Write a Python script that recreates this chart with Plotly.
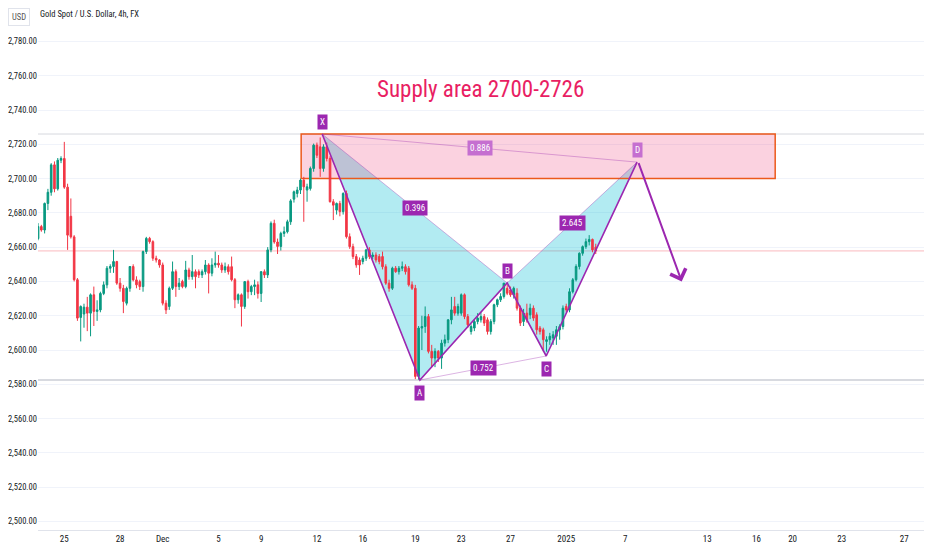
import plotly.graph_objects as go

# 4h candles (one per bar, left to right)
opens = [
    2670, 2665, 2672, 2670, 2685.5, 2692, 2708, 2694, 2710.7, 2711.7, 2695, 2678,
    2666, 2641, 2619, 2621, 2625, 2621.5, 2632.2, 2622.5, 2623.4, 2633, 2638, 2647.7,
    2648.7, 2651.6, 2639, 2636, 2627.3, 2636, 2648.7, 2640.9, 2639.9, 2637, 2657.4, 2665.1,
    2663.2, 2653.5, 2652.5, 2649.6, 2627.3, 2625.4, 2636, 2645.7, 2637, 2640, 2637, 2646.7,
    2642.8, 2645.7, 2645.7, 2643.8, 2645.7, 2649.6, 2644.8, 2649.6, 2650.6, 2649.6, 2646.7, 2648.6,
    2648.6, 2641, 2629.3, 2632.2, 2625.4, 2639.9, 2634, 2637, 2638, 2633, 2645.7, 2643.8,
    2658.4, 2673.9, 2663, 2660.4, 2668, 2669, 2674.8, 2688, 2691.3, 2693.3, 2699.1, 2693.3,
    2694.2, 2705.9, 2719.5, 2718.5, 2705.9, 2718.5, 2711.7, 2686.5, 2681.6, 2685.5, 2680.7, 2691.3,
    2666.1, 2660.3, 2654.5, 2652.5, 2651.6, 2653.5, 2658.4, 2654.5, 2655.4, 2654.5, 2654.5, 2648.6,
    2639, 2636, 2647.7, 2645.7, 2647.7, 2648.6, 2647.7, 2638, 2636, 2584.6, 2612.8, 2613.7,
    2619.5, 2599.2, 2595.3, 2599.2, 2595.3, 2604, 2606, 2617.6, 2625.4, 2621.5, 2621.5, 2632.2,
    2619.5, 2610.8, 2612.8, 2616.6, 2617.6, 2619.5, 2617.6, 2610.8, 2616.6, 2626.4, 2629.3, 2631.2,
    2636, 2635, 2632.2, 2633.1, 2624.4, 2616.6, 2621.5, 2620.5, 2624.4, 2620.5, 2612.8, 2611.8,
    2605, 2606, 2607, 2608, 2611.8, 2613.7, 2625.4, 2623.4, 2634, 2641, 2648.7, 2656.4,
    2660.3, 2663.2, 2664.5, 2660,
]
highs = [
    2673, 2674, 2673, 2686, 2694, 2709, 2710, 2712, 2713, 2721.4, 2697, 2688.4,
    2667, 2642, 2626, 2627, 2631, 2633, 2637, 2629, 2634, 2640, 2649, 2650,
    2658.4, 2652, 2642, 2638, 2637, 2649, 2650, 2643, 2641, 2658, 2666, 2666,
    2664, 2655, 2653, 2651, 2629, 2637, 2651.6, 2647, 2642, 2641, 2652, 2648,
    2655.4, 2647, 2647, 2647, 2652.5, 2650.6, 2653.5, 2657.4, 2655.4, 2651, 2651, 2650,
    2654.5, 2642, 2633, 2633, 2640, 2641, 2638, 2641, 2640, 2646, 2647, 2660,
    2675, 2676, 2665, 2669, 2672, 2676, 2688, 2693, 2695.2, 2700, 2701, 2697,
    2707, 2720.4, 2721, 2724, 2720, 2721, 2713, 2688, 2686, 2687, 2692, 2693,
    2668, 2662, 2656, 2654, 2655, 2659, 2660, 2657, 2657, 2656, 2657.4, 2650,
    2641, 2648.6, 2649, 2649, 2651.6, 2650, 2649, 2640, 2638, 2614, 2620, 2625.4,
    2621, 2603, 2601, 2600, 2606, 2609, 2618, 2631, 2631, 2627, 2633, 2633,
    2621, 2615, 2618, 2621.5, 2622, 2621, 2619, 2618, 2627, 2630, 2633.1, 2639,
    2638, 2637, 2637, 2636, 2626, 2624, 2627, 2627, 2626, 2622, 2614, 2613,
    2608, 2610, 2611, 2614, 2615, 2626, 2627, 2636, 2642, 2650, 2657, 2661,
    2665, 2667, 2665, 2662,
]
lows = [
    2661, 2664, 2669, 2668, 2681.6, 2690, 2692, 2693, 2709, 2694, 2658.4, 2665,
    2640, 2617, 2605, 2613, 2611, 2608, 2614, 2617, 2622, 2632, 2636, 2645,
    2645, 2638, 2634, 2621.5, 2626, 2634, 2640, 2636, 2635, 2634, 2656, 2662,
    2652, 2651, 2648, 2626, 2621, 2623.4, 2635, 2631, 2635, 2636, 2636, 2641,
    2641, 2636, 2642, 2642, 2644, 2633, 2643, 2648, 2648, 2645, 2645, 2644,
    2640, 2624.4, 2627, 2613.7, 2624, 2630, 2632, 2632, 2630, 2628, 2642, 2642,
    2657, 2662, 2656, 2658, 2666, 2668, 2673, 2686, 2689, 2691, 2674.8, 2686.5,
    2693, 2704, 2712, 2701, 2704, 2710, 2686, 2675.8, 2679, 2678, 2679, 2665,
    2659, 2653, 2648, 2643.8, 2650, 2652, 2653, 2653, 2651, 2650, 2647, 2638,
    2634, 2635, 2645, 2644, 2646, 2644, 2637, 2635, 2583, 2582.7, 2600, 2610,
    2598, 2590, 2590, 2593, 2589, 2602, 2604, 2615, 2620, 2620, 2620, 2618,
    2613, 2609, 2611, 2615, 2616, 2614, 2609, 2609, 2615, 2625, 2628, 2630,
    2632, 2631, 2630, 2623, 2614, 2614, 2616, 2618, 2617, 2609, 2609, 2599.2,
    2599, 2603, 2603, 2603, 2606, 2612, 2622, 2622, 2633, 2640, 2647, 2655,
    2659, 2661, 2657, 2656,
]
closes = [
    2665, 2672, 2670, 2685.5, 2692, 2708, 2694, 2710.7, 2711.7, 2695, 2667, 2666,
    2641, 2618.6, 2625.4, 2625, 2621.5, 2632.2, 2622.5, 2623.4, 2633, 2638, 2647.7, 2648.7,
    2651.6, 2639, 2636, 2628.3, 2636, 2648.7, 2640.9, 2638, 2637, 2657.4, 2665.1, 2663.2,
    2653.5, 2652.5, 2649.6, 2627.3, 2623.4, 2636, 2645.7, 2637, 2639, 2637, 2646.7, 2642.8,
    2645.7, 2642.8, 2643.8, 2645.7, 2649.6, 2644.8, 2649.6, 2650.6, 2649.6, 2646.7, 2648.6, 2645.7,
    2641, 2629.3, 2632.2, 2625.4, 2639.9, 2634, 2637, 2638, 2633, 2645.7, 2643.8, 2658.4,
    2673.9, 2663, 2660.4, 2668, 2669, 2674.8, 2687, 2692.3, 2693.3, 2699.1, 2695.2, 2695.2,
    2705.9, 2719.5, 2713.6, 2705.9, 2718.5, 2711.7, 2686.5, 2684.5, 2685.5, 2680.7, 2691.3, 2666.1,
    2660.3, 2654.5, 2649.6, 2649.6, 2653.5, 2658.4, 2654.5, 2655.4, 2652.5, 2651.6, 2648.6, 2639,
    2636, 2647.7, 2645.7, 2647.7, 2648.6, 2645.7, 2638, 2636, 2584.6, 2612.8, 2613.7, 2619.5,
    2599.2, 2595.3, 2599.2, 2595.3, 2604, 2606, 2617.6, 2623.4, 2621.5, 2625.4, 2632.2, 2619.5,
    2614.7, 2613.7, 2616.6, 2618.6, 2619.5, 2615.7, 2610.8, 2616.6, 2626.4, 2629.3, 2631.2, 2639,
    2633.1, 2632.2, 2636, 2624.4, 2615.7, 2621.5, 2617.6, 2624.4, 2618.6, 2611.8, 2610.8, 2606,
    2606, 2608, 2608.9, 2611.8, 2613.7, 2624.4, 2623.4, 2634, 2641, 2648.7, 2656.4, 2660.3,
    2663.2, 2664.5, 2658.4, 2657.8,
]
bars = list(range(len(closes)))

# time axis (bar index of each date label)
tick_bars = [9, 26, 39, 56, 69, 86, 100, 116, 130, 145, 162, 180, 205, 220, 231, 246, 265]
tick_text = ["25", "28", "Dec", "5", "9", "12", "16", "19", "23", "27", "2025", "7", "13", "16", "20", "23", "27"]
price_ticks = [2500, 2520, 2540, 2560, 2580, 2600, 2620, 2640, 2660, 2680, 2700, 2720, 2740, 2760, 2780]

# harmonic pattern X-A-B-C-D
pattern_names = ["X", "A", "B", "C", "D"]
pattern_x = [87.6, 117.4, 144.0, 155.9, 183.6]
pattern_y = [2726.0, 2582.5, 2639.1, 2596.5, 2709.6]
ratio_pairs = [(0, 2), (1, 3), (2, 4), (0, 4)]
ratio_text = ["0.396", "0.752", "2.645", "0.886"]

# supply zone and projected move
zone_x = [81.2, 225.7]
zone_y = [2700, 2726]
arrow_x = [183.9, 197.2]
arrow_y = [2709.9, 2640.0]
note_x, note_y = 136, 2751.7

PURPLE = "#9c27b0"
FONT = "Liberation Sans Narrow, Roboto Condensed, Roboto, sans-serif"

fig = go.Figure()

# triangle fills and zone box sit between grid and candles
shapes = []
for a, b, c in [(0, 1, 2), (2, 3, 4)]:
    path = "M {},{} L {},{} L {},{} Z".format(
        pattern_x[a], pattern_y[a], pattern_x[b], pattern_y[b], pattern_x[c], pattern_y[c])
    shapes.append(dict(type="path", path=path, fillcolor="rgba(0,188,212,0.3)",
                       line=dict(width=0), layer="between"))
shapes.append(dict(type="rect", x0=zone_x[0], x1=zone_x[1], y0=zone_y[0], y1=zone_y[1],
                   fillcolor="rgba(233,30,99,0.2)", line=dict(color="#ec5a1c", width=1.5),
                   layer="between"))
shapes.append(dict(type="line", xref="paper", x0=0, x1=1, y0=pattern_y[0], y1=pattern_y[0],
                   line=dict(color="#d6d8de", width=1), layer="between"))
shapes.append(dict(type="line", xref="paper", x0=0, x1=1, y0=pattern_y[1], y1=pattern_y[1],
                   line=dict(color="#d8dae0", width=2), layer="between"))
shapes.append(dict(type="line", xref="paper", x0=0, x1=1, y0=closes[-1], y1=closes[-1],
                   line=dict(color="rgba(242,54,69,0.35)", width=1), layer="between"))

fig.add_trace(go.Candlestick(
    x=bars, open=opens, high=highs, low=lows, close=closes,
    increasing=dict(line=dict(color="#089981", width=1), fillcolor="#089981"),
    decreasing=dict(line=dict(color="#f23645", width=1), fillcolor="#f23645"),
    whiskerwidth=0, showlegend=False, hoverinfo="skip",
))

# thin connector lines (X-B, B-D, X-D, A-C)
thin_x, thin_y = [], []
for i, j in [(0, 2), (2, 4)] + [(0, 4), (1, 3)]:
    thin_x += [pattern_x[i], pattern_x[j], None]
    thin_y += [pattern_y[i], pattern_y[j], None]
fig.add_trace(go.Scatter(x=thin_x, y=thin_y, mode="lines", showlegend=False, hoverinfo="skip",
                         line=dict(color="rgba(156,39,176,0.35)", width=1)))
fig.add_trace(go.Scatter(x=pattern_x, y=pattern_y, mode="lines", showlegend=False, hoverinfo="skip",
                         line=dict(color=PURPLE, width=1.6)))

annotations = []
for k, name in enumerate(pattern_names):
    up = k % 2 == 0
    bg = "#c56fd0" if name == "D" else PURPLE
    annotations.append(dict(x=pattern_x[k], y=pattern_y[k], text=name, showarrow=False,
                            yshift=12 if up else -13, bgcolor=bg, borderpad=2,
                            font=dict(color="white", size=9, family=FONT)))
for (i, j), txt in zip(ratio_pairs, ratio_text):
    bg = "#c56fd0" if txt == "0.886" else PURPLE
    annotations.append(dict(x=(pattern_x[i] + pattern_x[j]) / 2, y=(pattern_y[i] + pattern_y[j]) / 2,
                            text=txt, showarrow=False, bgcolor=bg, borderpad=2,
                            font=dict(color="white", size=9, family=FONT)))
annotations.append(dict(x=arrow_x[1], y=arrow_y[1], ax=arrow_x[0], ay=arrow_y[0],
                        axref="x", ayref="y", text="", showarrow=True, arrowhead=4,
                        arrowsize=1.6, arrowwidth=2, arrowcolor=PURPLE))
annotations.append(dict(x=note_x, y=note_y, text="Supply area 2700-2726", showarrow=False,
                        font=dict(color="#e91e63", size=23, family=FONT)))
annotations.append(dict(xref="paper", yref="paper", x=0, y=1.0, xanchor="left", yanchor="top",
                        xshift=-30, yshift=0, text="USD", showarrow=False,
                        bordercolor="#e0e3eb", borderwidth=1, borderpad=3, bgcolor="white",
                        font=dict(color="#555", size=8.5, family=FONT)))
annotations.append(dict(xref="paper", yref="paper", x=0, y=1.0, xanchor="left", yanchor="top",
                        xshift=0, yshift=1, text="Gold Spot / U.S. Dollar, 4h, FX", showarrow=False,
                        font=dict(color="#131722", size=8.5, family=FONT)))

# the page adds an 8px body margin, so the plot is offset by that amount
fig.update_layout(
    width=932, height=550,
    margin=dict(l=30, r=8, t=0, b=28, autoexpand=False),
    plot_bgcolor="white", paper_bgcolor="white",
    shapes=shapes, annotations=annotations,
    font=dict(family=FONT, size=9, color="#131722"),
    xaxis=dict(range=[0.98, 273.5], tickvals=tick_bars, ticktext=tick_text,
               showgrid=False, zeroline=False, rangeslider=dict(visible=False),
               showline=True, linecolor="#e0e3eb", ticks="", tickfont=dict(size=9),
               automargin=False),
    yaxis=dict(range=[2495.0, 2799.5], side="left", tickvals=price_ticks,
               tickformat=",.2f", gridcolor="#f0f3fa", zeroline=False, ticks="",
               tickfont=dict(size=8.5), automargin=False),
)

fig.write_html("out.html")
